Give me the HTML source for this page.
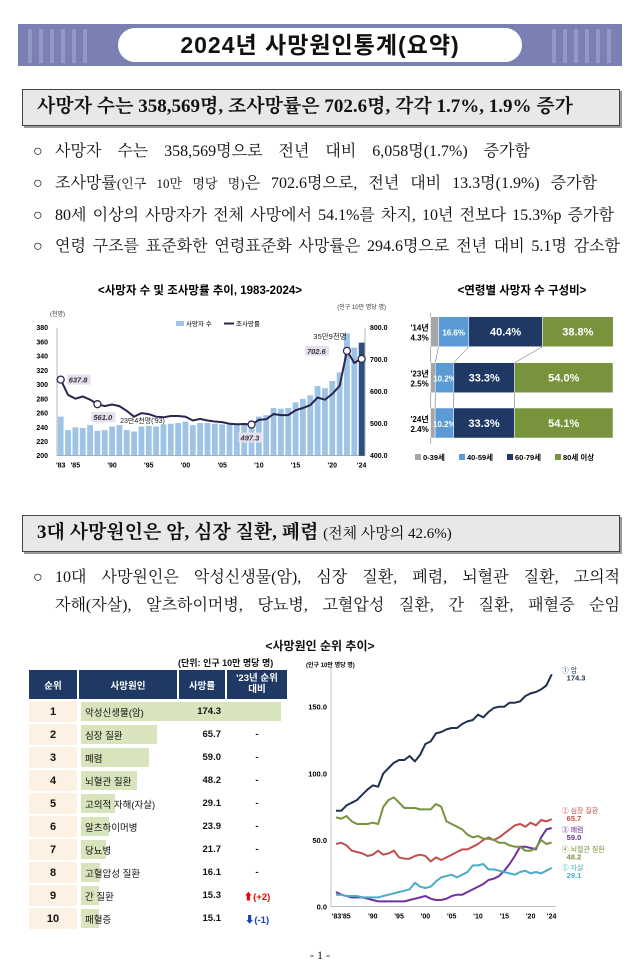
<!DOCTYPE html>
<html><head><meta charset="utf-8">
<style>
*{margin:0;padding:0;box-sizing:border-box}
body{width:640px;height:978px;background:#fff;position:relative;overflow:hidden;font-family:"Liberation Serif","Noto Serif CJK SC",serif;color:#111}
.abs{position:absolute}
.sans{font-family:"Liberation Sans","Noto Sans CJK KR",sans-serif}
.bl{position:absolute;left:55px;font-size:16px;white-space:nowrap;text-align:justify;text-align-last:justify;height:22px;line-height:22px}
.bc{position:absolute;left:33px;font-size:16px;height:22px;line-height:22px}
.box{position:absolute;left:22px;width:598px;background:#e8e8e8;border:1.5px solid #444;box-shadow:2px 2px 0 #999}
table{border-collapse:separate;border-spacing:2px}
</style></head><body>
<div class="abs" style="left:18px;top:24px;width:604px;height:42px;background:#7b80b3">
  <div class="abs" style="left:10px;top:5px;width:60px;height:34px;background:repeating-linear-gradient(90deg,#9ea2cc 0 4px,transparent 4px 11px);opacity:.7"></div>
  <div class="abs" style="right:10px;top:5px;width:60px;height:34px;background:repeating-linear-gradient(90deg,#9ea2cc 0 4px,transparent 4px 11px);opacity:.7"></div>
</div>
<div class="abs sans" style="left:118px;top:28px;width:404px;height:34px;background:#fff;border-radius:17px;text-align:center;font-size:23px;font-weight:bold;line-height:34px;letter-spacing:1px">2024년 사망원인통계(요약)</div>

<div class="box" style="top:89px;height:37px;font-size:19px;font-weight:bold;line-height:34px;padding-left:14px">사망자 수는 358,569명, 조사망률은 702.6명, 각각 1.7%, 1.9% 증가</div>

<div class="bc" style="top:141px">○</div>
<div class="bl" style="top:141px;width:475px">사망자 수는 358,569명으로 전년 대비 6,058명(1.7%) 증가함</div>
<div class="bc" style="top:173px">○</div>
<div class="bl" style="top:173px;width:542px">조사망률<span style="font-size:13px">(인구 10만 명당 명)</span>은 702.6명으로, 전년 대비 13.3명(1.9%) 증가함</div>
<div class="bc" style="top:205px">○</div>
<div class="bl" style="top:205px;width:559px">80세 이상의 사망자가 전체 사망에서 54.1%를 차지, 10년 전보다 15.3%p 증가함</div>
<div class="bc" style="top:236px">○</div>
<div class="bl" style="top:236px;width:565px">연령 구조를 표준화한 연령표준화 사망률은 294.6명으로 전년 대비 5.1명 감소함</div>

<svg class="abs" id="c1" style="left:0;top:278px" width="400" height="200"></svg>
<svg class="abs" id="c2" style="left:395px;top:278px" width="245" height="200"></svg>

<div class="box" style="top:515px;height:37px;font-size:19px;font-weight:bold;line-height:34px;padding-left:14px">3대 사망원인은 암, 심장 질환, 폐렴 <span style="font-weight:normal;font-size:15px">(전체 사망의 42.6%)</span></div>
<div class="bc" style="top:567px">○</div>
<div class="bl" style="top:567px;width:565px">10대 사망원인은 악성신생물(암), 심장 질환, 폐렴, 뇌혈관 질환, 고의적</div>
<div class="bl" style="top:595px;width:565px">자해(자살), 알츠하이머병, 당뇨병, 고혈압성 질환, 간 질환, 패혈증 순임</div>

<div class="abs sans" style="left:0;width:640px;top:637px;text-align:center;font-size:12px;font-weight:bold">&lt;사망원인 순위 추이&gt;</div>
<div class="abs sans" style="left:178px;top:656px;font-size:9px;font-weight:bold">(단위: 인구 10만 명당 명)</div>
<div class="abs sans" id="tbl" style="left:27px;top:668px;width:262px;font-size:9.5px"></div>

<svg class="abs" id="c3" style="left:300px;top:655px" width="340" height="270"></svg>

<div class="abs" style="left:0;width:640px;top:948px;text-align:center;font-size:12px">- 1 -</div>

<script>
const years=[];for(let y=1983;y<=2024;y++)years.push(y);
const deaths=[255,236,240,239,243,235,236,241,243,236,234,241,242,241,244,245,246,248,243,246,246,245,244,244,245,246,247,255,257,267,266,267,275,280,285,298,295,305,317,372,352,359];
const rates=[637.8,590,578,585,575,561.0,555,560,555,540,522,533,530,522,520,524,524,522,510,515,510,507,505,500,498,499,497.3,512,514,530,527,527,542,549,558,582,575,593,618,727.6,690,702.6];
const leftTicks=[200,220,240,260,280,300,320,340,360,380];
const rightTicks=[400,500,600,700,800];
const xTickLabels=["'83","'85","'90","'95","'00","'05","'10","'15","'20","'24"];
const xTickYears=[1983,1985,1990,1995,2000,2005,2010,2015,2020,2024];

const ageYears=["'14년","'23년","'24년"];
const age0=[4.3,2.5,2.4],age40=[16.6,10.2,10.2],age60=[40.4,33.3,33.3],age80=[38.8,54.0,54.1];
const ageLegend=["0-39세","40-59세","60-79세","80세 이상"];

const causes=["악성신생물(암)","심장 질환","폐렴","뇌혈관 질환","고의적 자해(자살)","알츠하이머병","당뇨병","고혈압성 질환","간 질환","패혈증"];
const causeRates=[174.3,65.7,59.0,48.2,29.1,23.9,21.7,16.1,15.3,15.1];
const causeChange=["-","-","-","-","-","-","-","-","+2","-1"];

const cancer=[72,72,76,78,80,84,88,91,90,100,104,108,110,110,113,109,114,122,124,130,131,133,134,134,137,139,140,144,142,146,149,150,150,153,153,154,158,160,161,163,166,174.3];
const heart=[47,48,46,42,41,40,38,39,42,39,40,42,37,36,36,38,39,38,34,37,35,37,39,41,43,43,45,47,50,52,50,52,55,58,61,62,60,63,61,65,64,65.7];
const cerebro=[67,66,68,64,62,62,62,63,62,75,80,82,78,74,74,74,73,73,73,77,75,64,62,60,58,54,52,53,51,51,50,48,48,46,45,45,42,42,44,50,47,48.2];
const pneumonia=[11,9,8,7,7,7,6,5,4,4,4,4,4,4,5,6,7,8,6,5,5,6,8,9,9,11,13,15,17,20,21,23,27,32,38,45,45,44,43,52,58,59.0];
const suicide=[9,9,8,8,8,7,7,7,7,8,9,10,11,12,13,18,15,14,15,19,22,23,24,22,24,26,31,31,32,28,28,27,26,25,24,26,27,25,26,25,27,29.1];
const c3Ticks=[0,50,100,150];

const NS="http://www.w3.org/2000/svg";
function mk(p,t,a,txt){const e=document.createElementNS(NS,t);for(const k in a)e.setAttribute(k,a[k]);if(txt!==undefined)e.textContent=txt;p.appendChild(e);return e;}
const SF='"Liberation Sans","Noto Sans CJK KR",sans-serif';

// chart 1
(function(){
const s=document.getElementById('c1');const oy=278;
const x=y=>60.7+(y-1983)*7.34;
const yl=v=>455.7-oy-(v-200)*(128/180);
const yr=v=>455.7-oy-(v-400)*(128/400);
let t=mk(s,'text',{x:200,y:16,'text-anchor':'middle','font-size':11.5,'font-weight':'bold','font-family':SF},'<사망자 수 및 조사망률 추이, 1983-2024>');

mk(s,'text',{x:50,y:38,'font-size':6,'font-family':SF,fill:'#333'},'(천명)');
mk(s,'text',{x:386,y:31,'font-size':6,'font-family':SF,fill:'#333','text-anchor':'end'},'(인구 10만 명당 명)');
leftTicks.forEach(v=>{const e=mk(s,'text',{x:48,y:yl(v)+2.5,'text-anchor':'end','font-size':7,'font-weight':'bold','font-family':SF},v);});
rightTicks.forEach(v=>{const e=mk(s,'text',{x:370,y:yr(v)+2.5,'font-size':7,'font-weight':'bold','font-family':SF},v.toFixed(1));});
xTickLabels.forEach((l,i)=>{const e=mk(s,'text',{x:x(xTickYears[i]),y:yl(200)+12,'text-anchor':'middle','font-size':7,'font-weight':'bold','font-family':SF},l);});
mk(s,'line',{x1:57,y1:yl(380),x2:57,y2:yl(200),stroke:'#888','stroke-width':.6});
mk(s,'line',{x1:365,y1:yl(380),x2:365,y2:yl(200),stroke:'#888','stroke-width':.6});
mk(s,'line',{x1:57,y1:yl(200),x2:365,y2:yl(200),stroke:'#888','stroke-width':.6});
deaths.forEach((d,i)=>{const b=mk(s,'rect',{x:x(years[i])-2.9,y:yl(d),width:5.8,height:yl(200)-yl(d),fill:i==deaths.length-1?'#2e4e7e':'#9dc3e6'});
});
let d='';rates.forEach((r,i)=>{d+=(i?'L':'M')+x(years[i]).toFixed(1)+','+yr(r).toFixed(1);});
const p=mk(s,'path',{d,fill:'none',stroke:'#2b2550','stroke-width':2});
[0,5,26,39,41].forEach(i=>{const c=mk(s,'circle',{cx:x(years[i]),cy:yr(rates[i]),r:3.5,fill:'#fff',stroke:'#2b2550','stroke-width':1.3});});
function lab(i,dx,dy,txt){mk(s,'rect',{x:x(years[i])+dx-2,y:yr(rates[i])+dy-8,width:24,height:10,fill:'#e6dff0'});
mk(s,'text',{x:x(years[i])+dx,y:yr(rates[i])+dy,'font-size':7.5,'font-weight':'bold','font-style':'italic','font-family':SF,fill:'#333'},txt);}
lab(0,8,3,'637.8');lab(5,-4,16,'561.0');lab(26,-11,16,'497.3');lab(39,-40,3,'702.6');
mk(s,'text',{x:x(1993)-14,y:yl(246),'font-size':7,'font-family':SF,fill:'#222'},"23만4천명('93)");
mk(s,'text',{x:x(2024)-15,y:yl(364),'font-size':7.5,'font-family':SF,'text-anchor':'end',fill:'#222'},'35만9천명');
mk(s,'rect',{x:176,y:43,width:8,height:5,fill:'#9dc3e6'});
mk(s,'text',{x:186,y:48,'font-size':6.5,'font-family':SF},'사망자 수');
mk(s,'line',{x1:224,y1:45.5,x2:234,y2:45.5,stroke:'#2b2550','stroke-width':2});
mk(s,'text',{x:236,y:48,'font-size':6.5,'font-family':SF},'조사망률');
})();

// chart 2
(function(){
const s=document.getElementById('c2');const ox=395,oy=278;
const x0=430.7-ox,W=182.3;const xs=v=>v*W/100;
const rowY=[316.7-oy,362.7-oy,408-oy],h=30;
mk(s,'text',{x:127,y:16,'text-anchor':'middle','font-size':11.5,'font-weight':'bold','font-family':SF},'<연령별 사망자 수 구성비>');
mk(s,'line',{x1:x0,y1:rowY[0]-4,x2:x0,y2:rowY[2]+h+6,stroke:'#888','stroke-width':.7});
const cols=['#a6a6a6','#5b9bd5','#1f3864','#77933c'];
const sets=[age0,age40,age60,age80];
const ends=[];
ageYears.forEach((yl,r)=>{let acc=0;const e=[];
 sets.forEach((arr,k)=>{const v=arr[r];const b=mk(s,'rect',{x:x0+xs(acc),y:rowY[r],width:xs(v),height:h,fill:cols[k],stroke:'#fff','stroke-width':.5});
 
 if(k>0){mk(s,'text',{x:x0+xs(acc+v/2),y:rowY[r]+h/2+4,'text-anchor':'middle','font-size':k==1?8:11,'font-weight':'bold','font-family':SF,fill:'#fff'},v.toFixed(1)+'%');}
 acc+=v;e.push(x0+xs(acc));});
 ends.push(e);
 mk(s,'text',{x:x0-2,y:rowY[r]+h/2-1,'text-anchor':'end','font-size':8,'font-weight':'bold','font-family':SF},yl);
 mk(s,'text',{x:x0-2,y:rowY[r]+h/2+9,'text-anchor':'end','font-size':8,'font-weight':'bold','font-family':SF},age0[r].toFixed(1)+'%');
});
for(let r=0;r<2;r++)for(let k=0;k<3;k++)mk(s,'line',{x1:ends[r][k],y1:rowY[r]+h,x2:ends[r+1][k],y2:rowY[r+1],stroke:'#555','stroke-width':.5});
let lx=20;ageLegend.forEach((l,k)=>{mk(s,'rect',{x:lx,y:176,width:6,height:6,fill:cols[k]});mk(s,'text',{x:lx+8,y:182,'font-size':7.5,'font-weight':'bold','font-family':SF},l);lx+=[44,48,48,50][k];});
})();

// table
(function(){
const tb=document.getElementById('tbl');
let h='<table style="width:262px"><tr style="background:#1f3864;color:#fff;height:29px;text-align:center;font-weight:bold">'+
'<td style="width:48px">순위</td><td style="width:98px">사망원인</td><td style="width:46px">사망률</td><td style="line-height:1.15">\'23년 순위<br>대비</td></tr>';
causes.forEach((c,i)=>{const w=Math.min(200,causeRates[i]*1.16);
const ch=causeChange[i];let chh=ch;
if(ch[0]=='+')chh='<span style="color:#e00;font-weight:bold">⬆('+ch+')</span>';
else if(ch[0]=='-'&&ch.length>1)chh='<span style="color:#1a3fc0;font-weight:bold">⬇('+ch+')</span>';
h+='<tr style="height:21px"><td style="background:#fdf1e4;text-align:center;font-weight:bold;font-size:11px">'+(i+1)+'</td>'+
'<td style="position:relative;padding-left:6px"><div style="position:absolute;left:2px;top:1px;height:19px;width:'+w+'px;background:#d8e4bc;z-index:0"></div><span style="position:relative;white-space:nowrap">'+c+'</span></td>'+
'<td style="text-align:right;padding-right:4px;font-weight:bold;position:relative">'+causeRates[i].toFixed(1)+'</td><td style="text-align:center;font-weight:bold">'+chh+'</td></tr>';});
tb.innerHTML=h+'</table>';
})();

// chart 3
(function(){
const s=document.getElementById('c3');const ox=300,oy=655;
const x=y=>336-ox+(y-1983)*5.26;
const yv=v=>906.7-oy-v*(200/150);
mk(s,'text',{x:6,y:12,'font-size':6,'font-weight':'bold','font-family':SF},'(인구 10만 명당 명)');
mk(s,'line',{x1:31,y1:10,x2:31,y2:yv(0),stroke:'#999','stroke-width':.6});
mk(s,'line',{x1:31,y1:yv(0),x2:x(2024)+4,y2:yv(0),stroke:'#999','stroke-width':.6});
c3Ticks.forEach(v=>{const e=mk(s,'text',{x:27,y:yv(v)+3,'text-anchor':'end','font-size':7.5,'font-weight':'bold','font-family':SF},v.toFixed(1));});
const xl=["'83'85","'90","'95","'00","'05","'10","'15","'20","'24"],xy=[1984,1990,1995,2000,2005,2010,2015,2020,2024];
xl.forEach((l,i)=>mk(s,'text',{x:x(xy[i]),y:yv(0)+12,'text-anchor':'middle','font-size':7,'font-weight':'bold','font-family':SF},l));
const series=[[cancer,'#1f3050','① 암','174.3',-2],[heart,'#c0504d','② 심장 질환','65.7',-6],[pneumonia,'#7030a0','③ 폐렴','59.0',4],[cerebro,'#77933c','④ 뇌혈관 질환','48.2',9],[suicide,'#4bacc6','⑤ 자살','29.1',2]];
series.forEach(([arr,col,name,val,off])=>{let d='';arr.forEach((v,i)=>{d+=(i?'L':'M')+x(years[i]).toFixed(1)+','+yv(v).toFixed(1);});
const p=mk(s,'path',{d,fill:'none',stroke:col,'stroke-width':2,'stroke-linejoin':'round'});
const ly=yv(arr[arr.length-1])+off;
mk(s,'text',{x:x(2024)+10,y:ly,'font-size':7,'font-family':SF,fill:col},name);
mk(s,'text',{x:x(2024)+15,y:ly+8,'font-size':7.5,'font-weight':'bold','font-family':SF,fill:col},val);});
})();
</script>
</body></html>
